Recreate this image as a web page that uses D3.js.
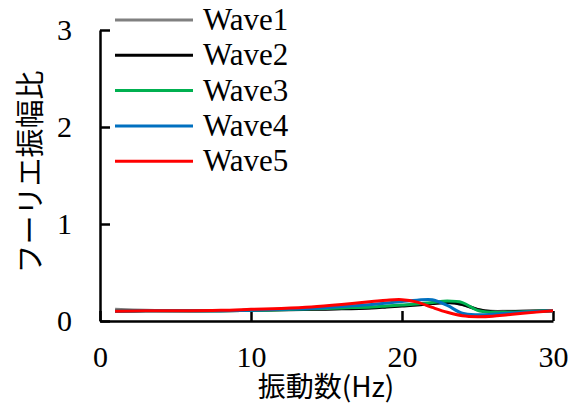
<!DOCTYPE html>
<html><head><meta charset="utf-8">
<script src="https://cdn.jsdelivr.net/npm/d3@7"></script>
</head><body style="margin:0">
<svg id="s" width="572" height="413">
</svg>
<script>
// frequencies (Hz) where values were read
var freqs = [1, 3, 5, 8, 10, 12, 14, 16, 18, 19, 20, 21, 22, 23, 24, 25, 26, 27, 28, 30];
var seriesNames = ["Wave1", "Wave2", "Wave3", "Wave4", "Wave5"];
var seriesColors = ["#808080", "#000000", "#00b050", "#0070c0", "#ff0000"];
var wave1 = [0.12, 0.11, 0.105, 0.105, 0.11, 0.115, 0.12, 0.13, 0.14, 0.15, 0.16, 0.17, 0.18, 0.19, 0.17, 0.12, 0.1, 0.1, 0.1, 0.105];
var wave2 = [0.10, 0.105, 0.105, 0.105, 0.11, 0.115, 0.12, 0.125, 0.135, 0.145, 0.155, 0.165, 0.18, 0.19, 0.17, 0.12, 0.095, 0.095, 0.1, 0.105];
var wave3 = [0.10, 0.105, 0.105, 0.105, 0.11, 0.115, 0.125, 0.135, 0.145, 0.155, 0.165, 0.175, 0.19, 0.205, 0.19, 0.11, 0.09, 0.09, 0.095, 0.105];
var wave4 = [0.10, 0.105, 0.105, 0.105, 0.11, 0.12, 0.13, 0.15, 0.17, 0.185, 0.2, 0.215, 0.22, 0.16, 0.08, 0.065, 0.07, 0.08, 0.09, 0.105];
var wave5 = [0.10, 0.105, 0.105, 0.11, 0.12, 0.13, 0.145, 0.17, 0.2, 0.215, 0.22, 0.195, 0.14, 0.09, 0.055, 0.045, 0.05, 0.065, 0.08, 0.105];
var xTicks = [0, 10, 20, 30];
var yTicks = [0, 1, 2, 3];

var allSeries = [wave1, wave2, wave3, wave4, wave5];

var s = d3.select("#s");
var x = d3.scaleLinear().domain([0, 30]).range([100, 553]);
var y = d3.scaleLinear().domain([0, 3]).range([321, 30]);

// x axis, ticks pointing inward
var xAxis = s.append("g")
    .attr("transform", "translate(0," + y(0) + ")")
    .call(d3.axisBottom(x).tickValues(xTicks).tickFormat(d3.format("d"))
        .tickSizeInner(-10).tickSizeOuter(0).tickPadding(25));
xAxis.attr("font-family", "Liberation Serif").attr("font-size", 30);
xAxis.select(".domain").attr("stroke-width", 2.5);
xAxis.selectAll(".tick line").attr("stroke-width", 2.5);

// y axis
var yAxis = s.append("g")
    .attr("transform", "translate(" + x(0) + ",0)")
    .call(d3.axisLeft(y).tickValues(yTicks).tickFormat(d3.format("d"))
        .tickSizeInner(-10).tickSizeOuter(0).tickPadding(28));
yAxis.attr("font-family", "Liberation Serif").attr("font-size", 30);
yAxis.select(".domain").attr("stroke-width", 2.5);
yAxis.selectAll(".tick line").attr("stroke-width", 2.5);

var lineGen = d3.line()
    .x(function(d, i) { return x(freqs[i]); })
    .y(function(d) { return y(d); })
    .curve(d3.curveCatmullRom);

s.append("g").selectAll("path")
    .data(allSeries).enter().append("path")
    .attr("d", function(d) { return lineGen(d); })
    .attr("fill", "none")
    .attr("stroke", function(d, i) { return seriesColors[i]; })
    .attr("stroke-width", 3);

// legend
var legend = s.append("g").selectAll("g")
    .data(seriesNames).enter().append("g")
    .attr("transform", function(d, i) { return "translate(115," + (20 + i * 35.3) + ")"; });
legend.append("line")
    .attr("x1", 0).attr("x2", 78)
    .attr("stroke", function(d, i) { return seriesColors[i]; })
    .attr("stroke-width", 3);
legend.append("text")
    .attr("x", 88).attr("y", 10)
    .attr("font-family", "Liberation Serif")
    .attr("font-size", 31)
    .text(function(d) { return d; });

// axis titles
s.append("text")
    .attr("x", 326).attr("y", 397)
    .attr("text-anchor", "middle")
    .attr("font-family", "Noto Sans CJK JP")
    .attr("font-size", 28)
    .text("振動数(Hz)");
s.append("g")
    .attr("transform", "translate(41,172) rotate(-90)")
    .append("text")
    .attr("text-anchor", "middle")
    .attr("font-family", "Noto Sans CJK JP")
    .attr("font-size", 29)
    .text("フーリエ振幅比");
</script>
</body></html>
